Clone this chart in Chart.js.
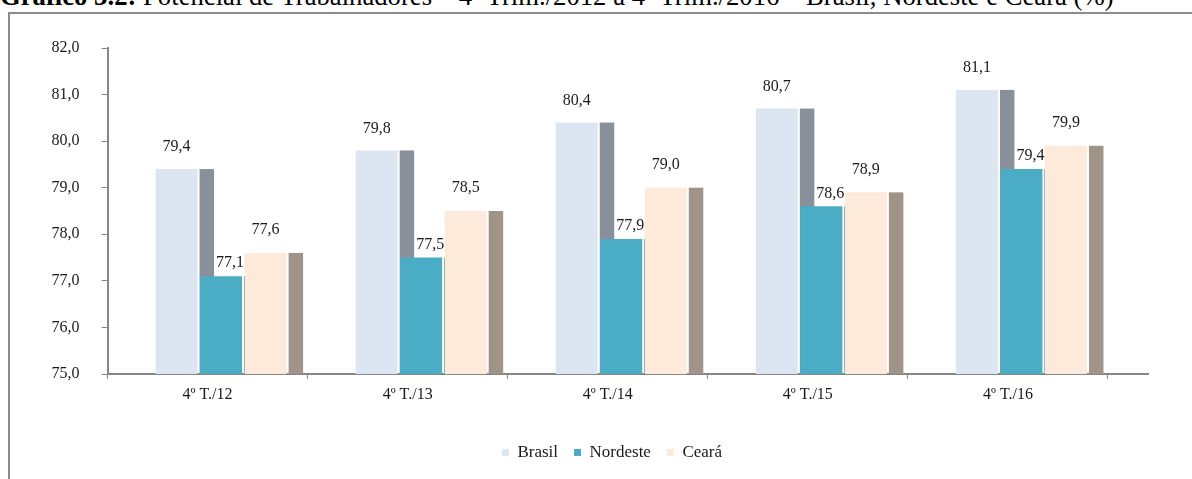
<!DOCTYPE html>
<html>
<head>
<meta charset="utf-8">
<script src="https://cdn.jsdelivr.net/npm/chart.js@4/dist/chart.umd.min.js"></script>
<style>
  body { margin: 0; background: #fff; width: 1192px; height: 479px; overflow: hidden; position: relative; }
  #title { position: absolute; left: 0; top: -17px; font: 26.7px/26px "Liberation Serif", serif; color: #000; white-space: nowrap; }
  #frame { position: absolute; left: 8px; top: 12px; width: 1250px; height: 520px; border: 2px solid #8c8c8c; }
  #wrap { position: absolute; left: 0; top: 0; width: 1192px; height: 479px; }
</style>
</head>
<body>
<div id="title"><b>Gráfico 3.2:</b> Potencial de Trabalhadores – 4º Trim./2012 a 4º Trim./2016 – Brasil, Nordeste e Ceará (%)</div>
<div id="frame"></div>
<div id="wrap"><canvas id="chart" width="1192" height="479"></canvas></div>
<script>
// Data
const categories = ['4º T./12', '4º T./13', '4º T./14', '4º T./15', '4º T./16'];
const brasil = [79.4, 79.8, 80.4, 80.7, 81.1];
const nordeste = [77.1, 77.5, 77.9, 78.6, 79.4];
const ceara = [77.6, 78.5, 79.0, 78.9, 79.9];
const yTicks = [75, 76, 77, 78, 79, 80, 81, 82];

const serif = '"Liberation Serif", "Times New Roman", serif';
const axisGray = '#868686';
const fmt = v => v.toFixed(1).replace('.', ',');
const toPoints = arr => arr.map((v, i) => ({ x: i, y: v }));

// side face of each 3d column, drawn before the fronts so the next column covers it
const sideFaces = {
  id: 'sideFaces',
  afterLayout(chart) {
    // y axis box is kept narrow (so the legend centres like the original); don't clip its labels
    chart.scales.y.left = 0;
  },
  beforeDatasetsDraw(chart) {
    const ctx = chart.ctx;
    const bottom = chart.chartArea.bottom;
    ctx.save();
    chart.data.datasets.forEach((ds, i) => {
      ctx.fillStyle = ds.sideColor;
      chart.getDatasetMeta(i).data.forEach(bar => {
        ctx.fillRect(bar.x + bar.width / 2 + 2, bar.y, 14.5, bottom - bar.y);
      });
    });
    ctx.restore();
  }
};

const valueLabels = {
  id: 'valueLabels',
  afterDatasetsDraw(chart) {
    const ctx = chart.ctx;
    ctx.save();
    ctx.font = '16px ' + serif;
    ctx.fillStyle = '#1a1a1a';
    ctx.textAlign = 'center';
    ctx.textBaseline = 'middle';
    chart.data.datasets.forEach((ds, i) => {
      chart.getDatasetMeta(i).data.forEach((bar, j) => {
        ctx.fillText(fmt(ds.data[j].y), bar.x + ds.labelDx, bar.y - ds.labelDy);
      });
    });
    ctx.restore();
  }
};

new Chart(document.getElementById('chart'), {
  type: 'bar',
  data: {
    datasets: [{
      label: 'Brasil',
      data: toPoints(brasil),
      backgroundColor: '#dce6f2',
      sideColor: '#8a9099',
      labelDx: 0, labelDy: 22,
      xAxisID: 'xb'
    }, {
      label: 'Nordeste',
      data: toPoints(nordeste),
      backgroundColor: '#4bacc6',
      sideColor: '#31859c',
      labelDx: 9, labelDy: 13,
      xAxisID: 'xb'
    }, {
      label: 'Ceará',
      data: toPoints(ceara),
      backgroundColor: '#fdeada',
      sideColor: '#a09488',
      labelDx: 0, labelDy: 23,
      xAxisID: 'xb'
    }]
  },
  options: {
    responsive: false,
    animation: false,
    datasets: {
      bar: { categoryPercentage: 0.6675, barPercentage: 0.944 }
    },
    layout: { padding: { left: 76, right: 44, top: 48, bottom: 8 } },
    scales: {
      // visible category axis
      x: {
        type: 'linear',
        position: 'bottom',
        offset: false,
        min: -0.5,
        max: 4.7,
        afterBuildTicks: s => { s.ticks = categories.map((c, i) => ({ value: i })); },
        afterFit: s => { s.height = 54; },
        ticks: {
          callback: v => categories[v],
          font: { family: serif, size: 16 },
          color: '#1a1a1a',
          padding: 6,
          maxRotation: 0,
          autoSkip: false
        },
        grid: { offset: true, drawOnChartArea: false, tickLength: 5, color: axisGray },
        border: { color: axisGray, width: 2 }
      },
      // hidden axis the 3d columns sit on (columns lean right of the category centre)
      xb: {
        type: 'linear',
        display: false,
        offset: false,
        min: -0.5675,
        max: 4.6325,
        afterBuildTicks: s => { s.ticks = categories.map((c, i) => ({ value: i })); }
      },
      y: {
        min: 75,
        max: 82,
        afterBuildTicks: s => { s.ticks = yTicks.map(v => ({ value: v })); },
        afterFit: s => { s.width = 31.5; },
        ticks: {
          callback: v => fmt(v),
          font: { family: serif, size: 16 },
          color: '#1a1a1a',
          padding: 22
        },
        grid: { drawOnChartArea: false, tickLength: 6, color: axisGray },
        border: { color: axisGray, width: 2 }
      }
    },
    plugins: {
      legend: {
        position: 'bottom',
        labels: {
          boxWidth: 7,
          boxHeight: 7,
          padding: 16,
          color: '#1a1a1a',
          font: { family: serif, size: 17 }
        }
      },
      tooltip: { enabled: false }
    }
  },
  plugins: [sideFaces, valueLabels]
});
</script>
</body>
</html>
